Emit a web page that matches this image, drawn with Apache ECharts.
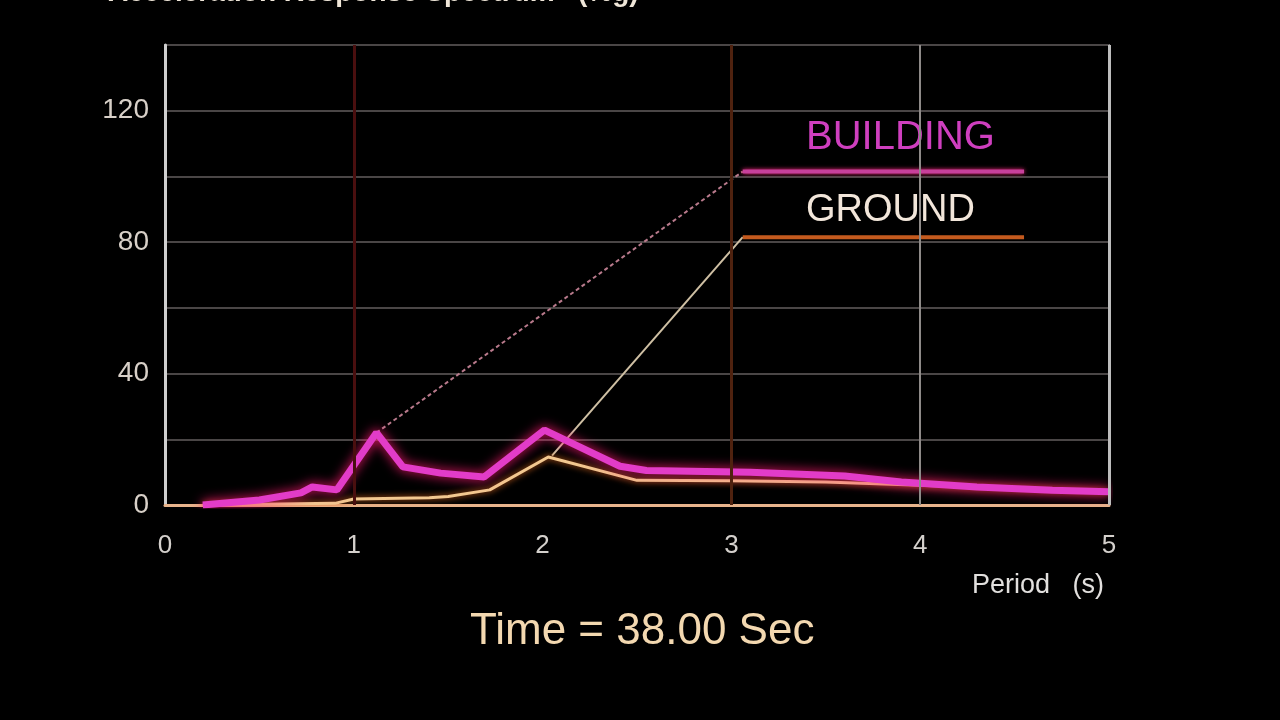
<!DOCTYPE html>
<html><head><meta charset="utf-8">
<script src="https://cdn.jsdelivr.net/npm/echarts@6/dist/echarts.min.js"></script>
<style>html,body{margin:0;padding:0;background:#000;}#c{width:1280px;height:720px;}</style>
</head><body><div id="c"></div>
<script>
// Periods (s) and spectral acceleration (%g)
const buildingPeriods = [0.2, 0.5, 0.72, 0.78, 0.91, 1.12, 1.26, 1.46, 1.69, 2.01, 2.41, 2.55, 3.1, 3.6, 3.9, 4.3, 4.7, 5.0];
const buildingValues  = [0, 1.5, 3.7, 5.5, 4.6, 22, 11.6, 9.7, 8.5, 22.8, 11.8, 10.5, 10, 8.8, 7, 5.5, 4.5, 4];
const groundPeriods = [0.2, 0.9, 1.0, 1.4, 1.5, 1.72, 2.03, 2.5, 3.0, 3.5, 4.0, 4.5, 5.0];
const groundValues  = [0, 0.5, 1.8, 2.2, 2.6, 4.6, 14.6, 7.5, 7.4, 7.0, 6.0, 5.0, 4.0];
// envelope (peak-to-plateau) lines
const buildingEnvPeriods = [1.12, 3.06];
const buildingEnvValues  = [22, 101.5];
const buildingPlateauPeriods = [3.06, 4.55];
const buildingPlateauValues  = [101.5, 101.5];
const groundEnvPeriods = [2.05, 3.06];
const groundEnvValues  = [15, 81.5];
const groundPlateauPeriods = [3.06, 4.55];
const groundPlateauValues  = [81.5, 81.5];
const xTicks = [0, 1, 2, 3, 4, 5];
const yLabelTicks = [0, 40, 80, 120];

const zip = (a, b) => a.map((v, i) => [v, b[i]]);
const FONT = 'Liberation Sans';

const chart = echarts.init(document.getElementById('c'), null, {renderer: 'canvas'});
chart.setOption({
  backgroundColor: '#000',
  animation: false,
  grid: {left: 165, right: 171, top: 45, bottom: 215, show: true, borderColor: '#7a7a7a', borderWidth: 2, backgroundColor: 'transparent'},
  xAxis: {
    type: 'value', min: 0, max: 5, interval: 1,
    axisLine: {show: true, lineStyle: {color: '#e8b48c', width: 3}},
    axisTick: {show: false},
    splitLine: {show: false},
    axisLabel: {color: '#d4d0cc', fontSize: 26, fontFamily: FONT, margin: 28,
      formatter: v => xTicks.includes(v) ? String(v) : ''}
  },
  yAxis: {
    type: 'value', min: 0, max: 140, interval: 20,
    axisLine: {show: true, lineStyle: {color: '#cfcfcf', width: 3}},
    axisTick: {show: false},
    splitLine: {show: true, lineStyle: {color: '#4a4646', width: 2}},
    axisLabel: {color: '#d8d0c8', fontSize: 28, fontFamily: FONT, margin: 16,
      formatter: v => yLabelTicks.includes(v) ? String(v) : ''}
  },
  series: [
    {type: 'line', data: [], silent: true,
      markLine: {symbol: 'none', silent: true, label: {show: false},
        data: [
          {xAxis: 1, lineStyle: {color: '#4a0f0f', width: 3, type: 'solid'}},
          {xAxis: 3, lineStyle: {color: '#4f220f', width: 3, type: 'solid'}},
          {xAxis: 4, lineStyle: {color: '#8e8a88', width: 2, type: 'solid'}},
          {xAxis: 5, lineStyle: {color: '#bdbdbd', width: 3, type: 'solid'}}
        ]}},
    {name: 'BUILDING envelope', type: 'line', data: zip(buildingEnvPeriods, buildingEnvValues),
      showSymbol: false, lineStyle: {color: '#b97a8c', width: 2, type: [4, 3]}},
    {name: 'GROUND envelope', type: 'line', data: zip(groundEnvPeriods, groundEnvValues),
      showSymbol: false, lineStyle: {color: '#cfc0a4', width: 2}},
    {name: 'BUILDING plateau', type: 'line', data: zip(buildingPlateauPeriods, buildingPlateauValues),
      showSymbol: false, lineStyle: {color: '#c8409c', width: 4, shadowBlur: 4, shadowColor: '#ff2a80'}},
    {name: 'GROUND plateau', type: 'line', data: zip(groundPlateauPeriods, groundPlateauValues),
      showSymbol: false, lineStyle: {color: '#c45a1e', width: 4}},
    {name: 'GROUND', type: 'line', data: zip(groundPeriods, groundValues),
      showSymbol: false, lineStyle: {color: '#f2c890', width: 3, shadowBlur: 6, shadowColor: '#e06a20'}},
    {name: 'BUILDING', type: 'line', data: zip(buildingPeriods, buildingValues),
      showSymbol: false, lineStyle: {color: '#e23cc8', width: 7, shadowBlur: 12, shadowColor: '#ff1a70'}}
  ],
  graphic: [
    {type: 'text', left: 108, top: -21, style: {text: 'Acceleration Response Spectrum   (%g)', fill: '#efe6d8', font: 'bold 28px ' + FONT}},
    {type: 'text', left: 806, top: 118, style: {text: 'BUILDING', fill: '#cf3fbf', font: '40px ' + FONT}},
    {type: 'text', left: 806, top: 192, style: {text: 'GROUND', fill: '#f2e6da', font: '38px ' + FONT}},
    {type: 'text', left: 972, top: 572, style: {text: 'Period   (s)', fill: '#e2e0de', font: '27px ' + FONT}},
    {type: 'text', left: 470, top: 610, style: {text: 'Time = 38.00 Sec', fill: '#f3d8b0', font: '44px ' + FONT}}
  ]
});
</script></body></html>
